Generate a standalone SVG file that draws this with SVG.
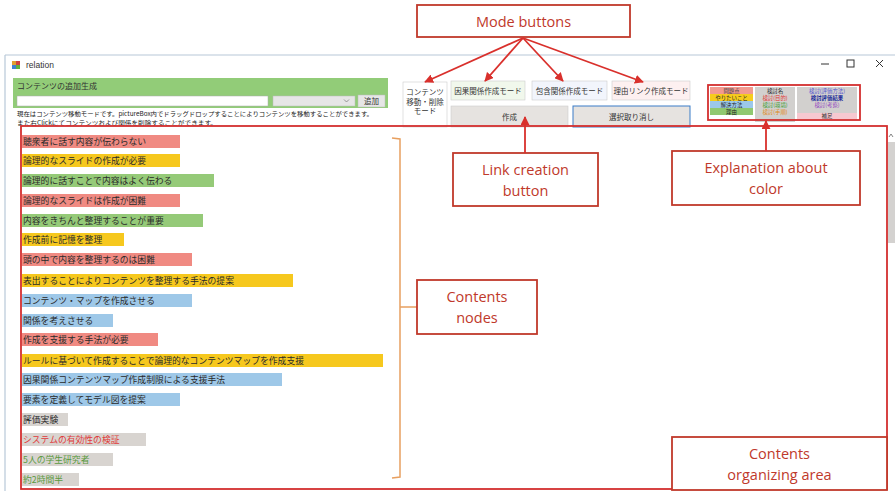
<svg xmlns="http://www.w3.org/2000/svg" width="895" height="491" viewBox="0 0 895 491">
<defs>
<style>
.jp{font-family:"Noto Sans CJK JP","Noto Sans CJK SC",sans-serif;}
.nt{font-family:"Noto Sans CJK JP","Noto Sans CJK SC",sans-serif;font-size:8.8px;fill:#2a2a2a;}
.ann{font-family:"Open Sans","Liberation Sans",sans-serif;font-size:14.5px;fill:#c0392b;text-anchor:middle;}
.abox{fill:#fff;stroke:#c0392b;stroke-width:1.8;}
.btn{font-family:"Noto Sans CJK JP",sans-serif;font-size:7.5px;fill:#333;text-anchor:middle;}
.lg{font-family:"Noto Sans CJK JP",sans-serif;font-size:5.4px;text-anchor:middle;}
.arr{stroke:#d9302c;stroke-width:1.8;fill:none;}
</style>
<marker id="ah" viewBox="0 0 10 10" refX="9" refY="5" markerWidth="5" markerHeight="5" orient="auto" markerUnits="strokeWidth">
<path d="M0,0 L10,5 L0,10 z" fill="#d9302c"/>
</marker>
</defs>
<rect width="895" height="491" fill="#fff"/>

<g id="window">
<line x1="5" y1="55" x2="895" y2="55" stroke="#b8c8d8" stroke-width="1.2"/>
<line x1="5" y1="55" x2="5" y2="491" stroke="#b8c8d8" stroke-width="1.2"/>
<rect x="12" y="61" width="4" height="4" fill="#e0a030"/>
<rect x="16" y="61" width="4" height="4" fill="#d04040"/>
<rect x="12" y="65" width="4" height="4" fill="#4080d0"/>
<rect x="16" y="65" width="4" height="4" fill="#60b040"/>
<text x="26" y="68" font-family="Liberation Sans,sans-serif" font-size="8.5" fill="#333">relation</text>
<line x1="821" y1="64" x2="829" y2="64" stroke="#333" stroke-width="1"/>
<rect x="847" y="60" width="7" height="7" fill="none" stroke="#333" stroke-width="1"/>
<path d="M876,60 L883,67 M883,60 L876,67" stroke="#333" stroke-width="1"/>
<rect x="888" y="142" width="7" height="101" fill="#d4d2d0"/>
<path d="M889,137 L891,134 L893,137" stroke="#666" stroke-width="0.8" fill="none"/>
</g>

<g id="add-panel">
<rect x="13" y="78" width="375" height="30" fill="#92cc78"/>
<text x="17" y="89" class="jp" font-size="8" fill="#333">コンテンツの追加生成</text>
<rect x="17" y="96" width="251" height="10" fill="#fff" stroke="#aaa" stroke-width="0.5"/>
<rect x="273" y="96" width="82" height="10" fill="#e6e6e6" stroke="#bbb" stroke-width="0.5"/>
<path d="M344,99.5 L346.5,102 L349,99.5" stroke="#777" stroke-width="0.7" fill="none"/>
<rect x="358" y="95" width="27" height="12" fill="#e6e6e6" stroke="#bbb" stroke-width="0.5"/>
<text x="371.5" y="104" class="btn">追加</text>
<text x="17" y="115.5" class="jp" font-size="6.2" fill="#222" textLength="356" lengthAdjust="spacingAndGlyphs">現在はコンテンツ移動モードです。pictureBox内でドラッグドロップすることによりコンテンツを移動することができます。</text>
<text x="17" y="124.5" class="jp" font-size="6.2" fill="#222" textLength="200" lengthAdjust="spacingAndGlyphs">また右Clickにてコンテンツおよび関係を削除することができます。</text>
</g>

<g id="mode-buttons">
<rect x="403" y="82" width="44" height="45" fill="#fff" stroke="#ccc" stroke-width="0.6"/>
<text x="425" y="95" class="btn" font-size="6">コンテンツ</text>
<text x="425" y="104.5" class="btn" font-size="6">移動・削除</text>
<text x="425" y="114" class="btn" font-size="6">モード</text>
<rect x="451" y="81" width="74" height="19" fill="#f1f8ec" stroke="#ccc" stroke-width="0.6"/>
<text x="488" y="93.5" class="btn">因果関係作成モード</text>
<rect x="532" y="81" width="75" height="19" fill="#f2f5fc" stroke="#ccc" stroke-width="0.6"/>
<text x="569.5" y="93.5" class="btn">包含関係作成モード</text>
<rect x="612" y="81" width="78" height="19" fill="#fdf0f0" stroke="#ccc" stroke-width="0.6"/>
<text x="651" y="93.5" class="btn">理由リンク作成モード</text>
</g>

<g id="link-buttons">
<rect x="451" y="106" width="117" height="21" fill="#e6e3e0" stroke="#ccc" stroke-width="0.6"/>
<text x="509.5" y="119.5" class="btn">作成</text>
<rect x="573" y="106" width="117" height="21" fill="#e6e3e0" stroke="#3a7cc8" stroke-width="1"/>
<text x="631.5" y="119.5" class="btn">選択取り消し</text>
</g>

<g id="color-legend">
<rect x="710" y="87" width="43" height="7" fill="#f29a90"/>
<rect x="710" y="94" width="43" height="7" fill="#f6cc1c"/>
<rect x="710" y="101" width="43" height="7" fill="#9cc8ea"/>
<rect x="710" y="108" width="43" height="7" fill="#90c870"/>
<text x="731.5" y="92.6" class="lg" fill="#444">問題点</text>
<text x="731.5" y="99.6" class="lg" fill="#222">やりたいこと</text>
<text x="731.5" y="106.6" class="lg" fill="#222">解決方法</text>
<text x="731.5" y="113.6" class="lg" fill="#222">理由</text>
<rect x="755" y="87" width="40" height="35" fill="#d2d0ce"/>
<text x="775" y="92.6" class="lg" fill="#222">検討名</text>
<text x="775" y="99.6" class="lg" fill="#e03030">検討(目的)</text>
<text x="775" y="106.6" class="lg" fill="#3a9a30">検討(環境)</text>
<text x="775" y="113.6" class="lg" fill="#e08a20">検討(手順)</text>
<rect x="797" y="87" width="60" height="26" fill="#d2d0ce"/>
<rect x="797" y="113" width="60" height="6" fill="#f6c8d0"/>
<text x="827" y="92.6" class="lg" fill="#5050d0">検討(評価方法)</text>
<text x="827" y="99.6" class="lg" fill="#1a2a9a" font-weight="bold">検討評価結果</text>
<text x="827" y="106.6" class="lg" fill="#9040c0">検討(考察)</text>
<text x="827" y="118.2" class="lg" fill="#333">補足</text>
<rect x="708" y="85" width="152" height="35" fill="none" stroke="#d32f2f" stroke-width="1.8"/>
</g>

<g id="contents-nodes">
<g id="n1"><rect x="22" y="135" width="158" height="13" fill="#f08a82"/><text x="23" y="145" class="nt">聴衆者に話す内容が伝わらない</text></g>
<g id="n2"><rect x="22" y="154" width="158" height="13" fill="#f6c81e"/><text x="23" y="164" class="nt">論理的なスライドの作成が必要</text></g>
<g id="n3"><rect x="22" y="174" width="192" height="13" fill="#95ca78"/><text x="23" y="184" class="nt">論理的に話すことで内容はよく伝わる</text></g>
<g id="n4"><rect x="22" y="194" width="158" height="13" fill="#f08a82"/><text x="23" y="204" class="nt">論理的なスライドは作成が困難</text></g>
<g id="n5"><rect x="22" y="214" width="181" height="13" fill="#95ca78"/><text x="23" y="224" class="nt">内容をきちんと整理することが重要</text></g>
<g id="n6"><rect x="22" y="233" width="102" height="13" fill="#f6c81e"/><text x="23" y="243" class="nt">作成前に記憶を整理</text></g>
<g id="n7"><rect x="22" y="253" width="170" height="13" fill="#f08a82"/><text x="23" y="263" class="nt">頭の中で内容を整理するのは困難</text></g>
<g id="n8"><rect x="22" y="274" width="271" height="13" fill="#f6c81e"/><text x="23" y="284" class="nt">表出することによりコンテンツを整理する手法の提案</text></g>
<g id="n9"><rect x="22" y="294" width="170" height="13" fill="#9ec8e8"/><text x="23" y="304" class="nt">コンテンツ・マップを作成させる</text></g>
<g id="n10"><rect x="22" y="314" width="91" height="13" fill="#9ec8e8"/><text x="23" y="324" class="nt">関係を考えさせる</text></g>
<g id="n11"><rect x="22" y="333" width="136" height="13" fill="#f08a82"/><text x="23" y="343" class="nt">作成を支援する手法が必要</text></g>
<g id="n12"><rect x="22" y="354" width="361" height="13" fill="#f6c81e"/><text x="23" y="364" class="nt">ルールに基づいて作成することで論理的なコンテンツマップを作成支援</text></g>
<g id="n13"><rect x="22" y="373" width="260" height="13" fill="#9ec8e8"/><text x="23" y="383" class="nt">因果関係コンテンツマップ作成制限による支援手法</text></g>
<g id="n14"><rect x="22" y="393" width="158" height="13" fill="#9ec8e8"/><text x="23" y="403" class="nt">要素を定義してモデル図を提案</text></g>
<g id="n15"><rect x="22" y="413" width="46" height="13" fill="#d8d4d0"/><text x="23" y="423" class="nt">評価実験</text></g>
<g id="n16"><rect x="22" y="433" width="124" height="13" fill="#d8d4d0"/><text x="23" y="443" class="nt" style="fill:#e03a3a">システムの有効性の検証</text></g>
<g id="n17"><rect x="22" y="453" width="91" height="13" fill="#d8d4d0"/><text x="23" y="463" class="nt" style="fill:#5a9a40">5人の学生研究者</text></g>
<g id="n18"><rect x="22" y="473" width="57" height="13" fill="#d8d4d0"/><text x="23" y="483" class="nt" style="fill:#5a9a40">約2時間半</text></g>
</g>

<g id="organizing-area">
<rect x="21" y="126" width="866" height="363" fill="none" stroke="#d32f2f" stroke-width="1.8"/>
</g>

<g id="bracket">
<path d="M392,138 L400,139 L400,477 L392,478 M400,307 L417,307" stroke="#e8a060" stroke-width="1.5" fill="none"/>
</g>

<g id="label-mode-buttons">
<rect x="417" y="5" width="213" height="32" class="abox"/>
<text x="523.5" y="27" class="ann" font-size="15.5">Mode buttons</text>
</g>
<g id="label-link-creation">
<rect x="453" y="153" width="145" height="53" class="abox"/>
<text x="525.5" y="175" class="ann">Link creation</text>
<text x="525.5" y="196" class="ann">button</text>
</g>
<g id="label-color">
<rect x="672" y="151" width="188" height="54" class="abox"/>
<text x="766" y="173" class="ann">Explanation about</text>
<text x="766" y="194" class="ann">color</text>
</g>
<g id="label-contents-nodes">
<rect x="417" y="280" width="120" height="54" class="abox"/>
<text x="477" y="302" class="ann">Contents</text>
<text x="477" y="323" class="ann">nodes</text>
</g>
<g id="label-organizing-area">
<rect x="672" y="437" width="215" height="53" class="abox"/>
<text x="779.5" y="459" class="ann">Contents</text>
<text x="779.5" y="480" class="ann">organizing area</text>
</g>

<g id="connectors">
<line x1="523" y1="38" x2="425" y2="82" class="arr" marker-end="url(#ah)"/>
<line x1="523" y1="38" x2="485" y2="81" class="arr" marker-end="url(#ah)"/>
<line x1="523" y1="38" x2="563" y2="81" class="arr" marker-end="url(#ah)"/>
<line x1="523" y1="38" x2="643" y2="82" class="arr" marker-end="url(#ah)"/>
<line x1="525" y1="153" x2="525" y2="117" class="arr" marker-end="url(#ah)"/>
<line x1="766" y1="151" x2="766" y2="121" class="arr" marker-end="url(#ah)"/>
</g>
</svg>
